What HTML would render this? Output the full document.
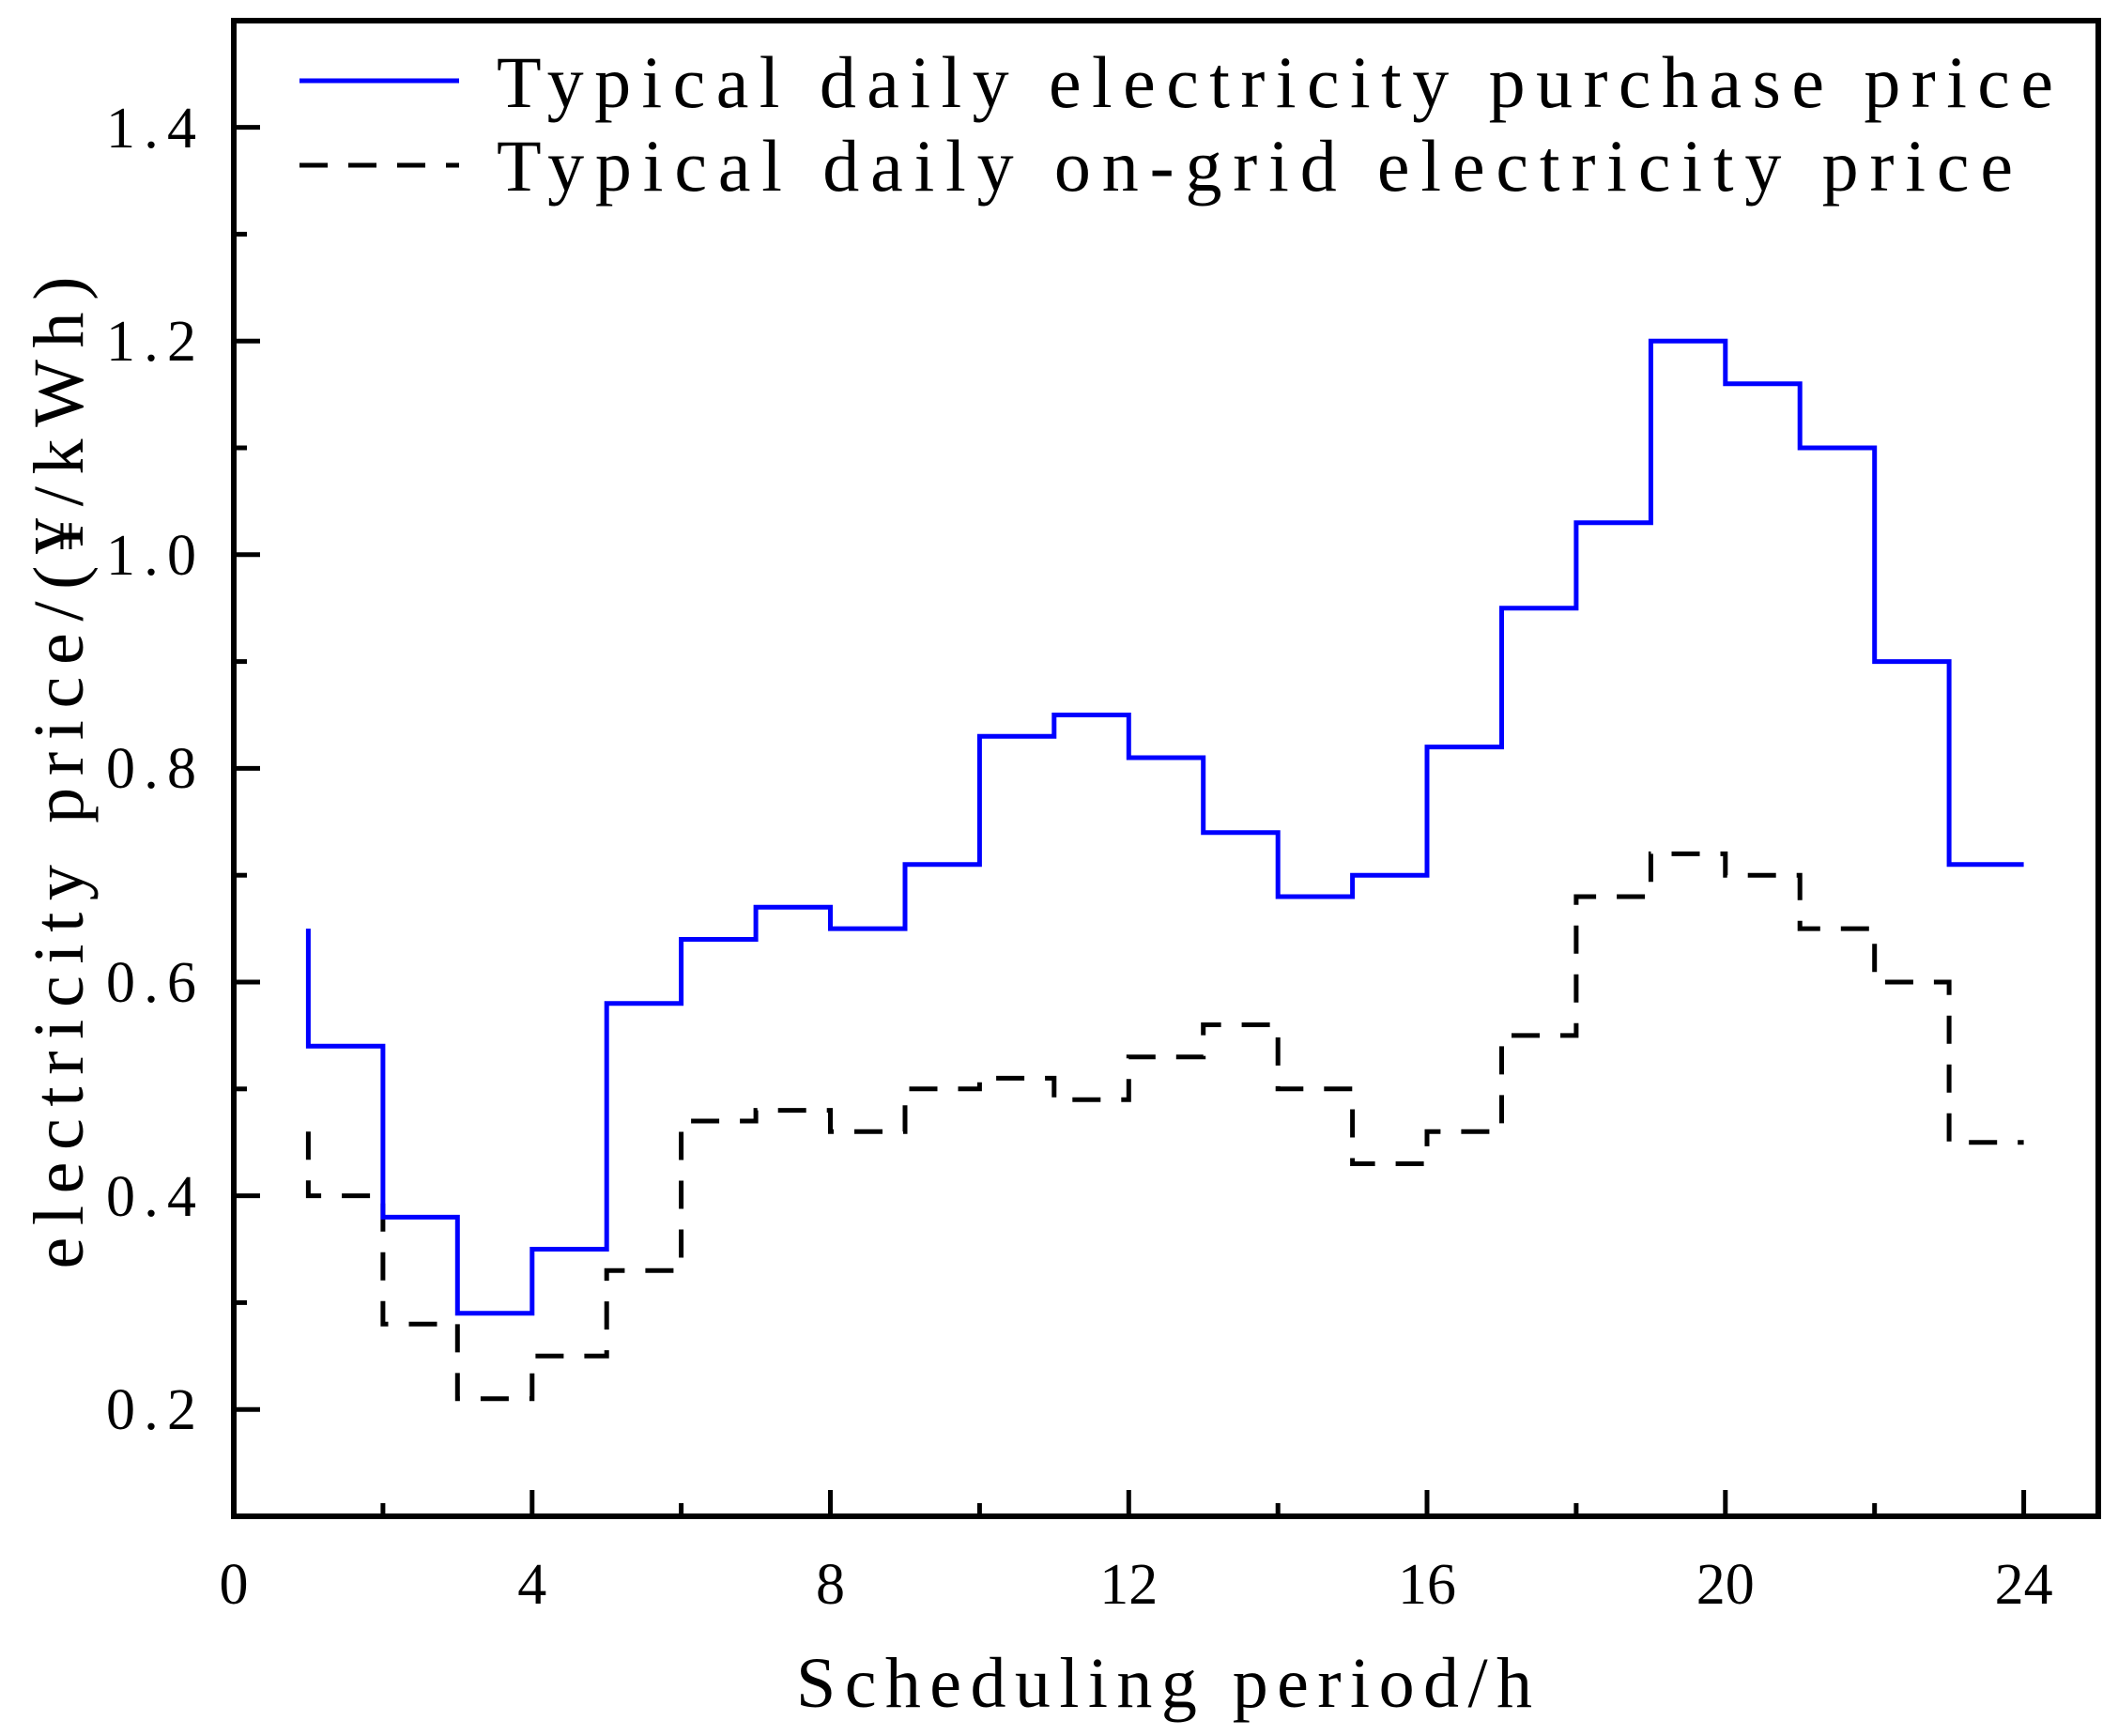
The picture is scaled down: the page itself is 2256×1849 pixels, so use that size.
<!DOCTYPE html>
<html><head><meta charset="utf-8"><style>html,body{margin:0;padding:0;background:#fff}</style></head>
<body>
<svg width="2256" height="1844" viewBox="0 0 2256 1844" xmlns="http://www.w3.org/2000/svg" font-family="'Liberation Serif','Noto Serif CJK SC',serif">
<rect width="2256" height="1844" fill="#fff"/>
<path fill="none" stroke="#000" stroke-width="5" stroke-dasharray="30 22" d="M328.4,1205.3 V1273.6 H407.9 V1410.2 H487.3 V1489.8 H566.8 V1444.3 H646.2 V1353.3 H725.6 V1194.0 H805.1 V1182.6 H884.5 V1205.3 H964.0 V1159.8 H1043.4 V1148.4 H1122.8 V1171.2 H1202.3 V1125.7 H1281.7 V1091.5 H1361.2 V1159.8 H1440.6 V1239.5 H1520.0 V1205.3 H1599.5 V1102.9 H1678.9 V955.0 H1758.4 V909.4 H1837.8 V932.2 H1917.2 V989.1 H1996.7 V1046.0 H2076.1 V1216.7 H2155.6"/>
<path fill="none" stroke="#0000ff" stroke-width="5" d="M328.4,989.1 V1114.3 H407.9 V1296.4 H487.3 V1398.8 H566.8 V1330.5 H646.2 V1068.8 H725.6 V1000.5 H805.1 V966.3 H884.5 V989.1 H964.0 V920.8 H1043.4 V784.3 H1122.8 V761.5 H1202.3 V807.0 H1281.7 V886.7 H1361.2 V955.0 H1440.6 V932.2 H1520.0 V795.6 H1599.5 V647.7 H1678.9 V556.7 H1758.4 V363.2 H1837.8 V408.7 H1917.2 V477.0 H1996.7 V704.6 H2076.1 V920.8 H2155.6"/>
<rect x="249" y="22" width="1986" height="1593" fill="none" stroke="#000" stroke-width="6"/>
<g stroke="#000" stroke-width="5">
<line x1="249" x2="263" y1="1615" y2="1615"/>
<line x1="249" x2="277" y1="1501.2" y2="1501.2"/>
<line x1="249" x2="263" y1="1387.4" y2="1387.4"/>
<line x1="249" x2="277" y1="1273.6" y2="1273.6"/>
<line x1="249" x2="263" y1="1159.8" y2="1159.8"/>
<line x1="249" x2="277" y1="1046" y2="1046"/>
<line x1="249" x2="263" y1="932.2" y2="932.2"/>
<line x1="249" x2="277" y1="818.4" y2="818.4"/>
<line x1="249" x2="263" y1="704.6" y2="704.6"/>
<line x1="249" x2="277" y1="590.8" y2="590.8"/>
<line x1="249" x2="263" y1="477" y2="477"/>
<line x1="249" x2="277" y1="363.2" y2="363.2"/>
<line x1="249" x2="263" y1="249.4" y2="249.4"/>
<line x1="249" x2="277" y1="135.6" y2="135.6"/>
<line x1="407.9" x2="407.9" y1="1615" y2="1601"/>
<line x1="566.8" x2="566.8" y1="1615" y2="1587"/>
<line x1="725.6" x2="725.6" y1="1615" y2="1601"/>
<line x1="884.5" x2="884.5" y1="1615" y2="1587"/>
<line x1="1043.4" x2="1043.4" y1="1615" y2="1601"/>
<line x1="1202.3" x2="1202.3" y1="1615" y2="1587"/>
<line x1="1361.2" x2="1361.2" y1="1615" y2="1601"/>
<line x1="1520" x2="1520" y1="1615" y2="1587"/>
<line x1="1678.9" x2="1678.9" y1="1615" y2="1601"/>
<line x1="1837.8" x2="1837.8" y1="1615" y2="1587"/>
<line x1="1996.7" x2="1996.7" y1="1615" y2="1601"/>
<line x1="2155.6" x2="2155.6" y1="1615" y2="1587"/>
</g>
<g font-size="62" text-anchor="end">
<text x="209" y="1522" textLength="96" lengthAdjust="spacing">0.2</text>
<text x="209" y="1295" textLength="96" lengthAdjust="spacing">0.4</text>
<text x="209" y="1067" textLength="96" lengthAdjust="spacing">0.6</text>
<text x="209" y="839" textLength="96" lengthAdjust="spacing">0.8</text>
<text x="209" y="612" textLength="96" lengthAdjust="spacing">1.0</text>
<text x="209" y="384" textLength="96" lengthAdjust="spacing">1.2</text>
<text x="209" y="157" textLength="96" lengthAdjust="spacing">1.4</text>
</g>
<g font-size="62" text-anchor="middle">
<text x="249" y="1708">0</text>
<text x="566.8" y="1708">4</text>
<text x="884.5" y="1708">8</text>
<text x="1202.3" y="1708">12</text>
<text x="1520" y="1708">16</text>
<text x="1837.8" y="1708">20</text>
<text x="2155.6" y="1708">24</text>
</g>
<text x="1240" y="1818" font-size="76" text-anchor="middle" textLength="784" lengthAdjust="spacing">Scheduling period/h</text>
<text x="0" y="0" font-size="76" text-anchor="middle" textLength="1057" lengthAdjust="spacing" transform="translate(88,823) rotate(-90)">electricity price/(¥/kWh)</text>
<line x1="319" x2="489" y1="86" y2="86" stroke="#0000ff" stroke-width="5"/>
<line x1="319" x2="489" y1="176" y2="176" stroke="#000" stroke-width="5" stroke-dasharray="30 22"/>
<text x="529" y="114" font-size="78" textLength="1658" lengthAdjust="spacing">Typical daily electricity purchase price</text>
<text x="529" y="203" font-size="78" textLength="1615" lengthAdjust="spacing">Typical daily on-grid electricity price</text>
</svg>
</body></html>
